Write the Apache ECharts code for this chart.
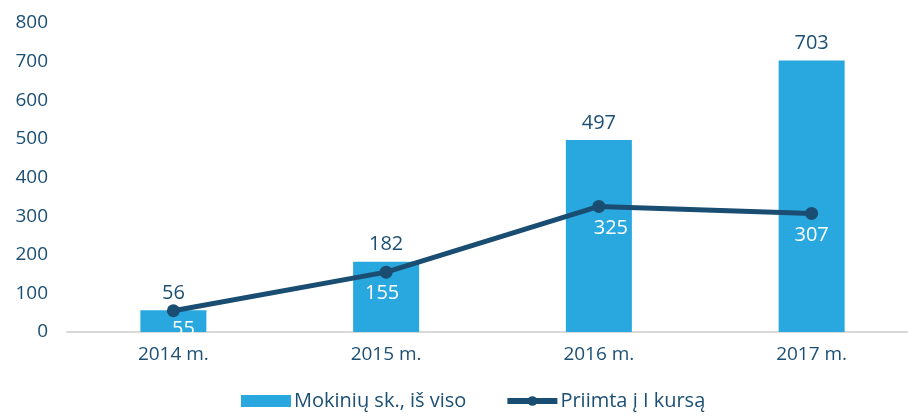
<!DOCTYPE html>
<html><head><meta charset="utf-8">
<script src="https://cdn.jsdelivr.net/npm/echarts@6/dist/echarts.min.js"></script>
<style>html,body{margin:0;padding:0;background:#fff}#c{width:908px;height:416px}</style>
</head><body><div id="c"></div>
<script>
const categories = ['2014 m.', '2015 m.', '2016 m.', '2017 m.'];
const totalStudents = [56, 182, 497, 703];
const admitted = [55, 155, 325, 307];
const yTicks = [0, 100, 200, 300, 400, 500, 600, 700, 800];

const chart = echarts.init(document.getElementById('c'));
const font = 'Open Sans';
const dark = '#1c4f74';
chart.setOption({
  animation: false,
  textStyle: { fontFamily: font },
  grid: { left: 67, width: 851, top: 23, bottom: 84, containLabel: false, outerBoundsMode: 'none' },
  legend: {
    bottom: 0, left: 236, itemGap: 38, itemWidth: 50, itemHeight: 12,
    textStyle: { fontFamily: font, fontSize: 20, color: dark, padding: [0,0,0,-2] },
    data: [
      { name: 'Mokinių sk., iš viso', icon: 'rect' },
      { name: 'Priimta į I kursą', lineStyle: { width: 6, color: '#1a4d72' }, itemStyle: { color: '#1a4d72' } }
    ]
  },
  xAxis: {
    type: 'category', data: categories,
    axisLine: { lineStyle: { color: '#d9d9d9', width: 2 } },
    axisTick: { show: false },
    axisLabel: { fontFamily: font, fontSize: 19, color: dark, margin: 13 }
  },
  yAxis: {
    type: 'value', min: yTicks[0], max: yTicks[yTicks.length - 1], interval: 100,
    splitLine: { show: false }, axisLine: { show: false }, axisTick: { show: false },
    axisLabel: { fontFamily: font, fontSize: 19, color: dark, margin: 19 }
  },
  series: [
    {
      name: 'Mokinių sk., iš viso', type: 'bar', data: totalStudents, barWidth: 66,
      itemStyle: { color: '#29a7df' },
      label: { show: true, position: 'top', distance: 7, fontFamily: font, fontSize: 20, color: dark }
    },
    {
      name: 'Priimta į I kursą', type: 'line', data: admitted.map((v, i) => i === 0 ? { value: v, label: { offset: [10, -3] } } : (i === 2 ? { value: v, label: { offset: [12, 0] } } : (i === 1 ? { value: v, label: { offset: [-4, 0] } } : v))),
      symbol: 'circle', symbolSize: 13,
      lineStyle: { color: '#1a4d72', width: 5 }, itemStyle: { color: '#1a4d72' },
      label: { show: true, position: 'bottom', distance: 5, fontFamily: font, fontSize: 20, color: '#ffffff' }
    }
  ]
});
</script></body></html>
